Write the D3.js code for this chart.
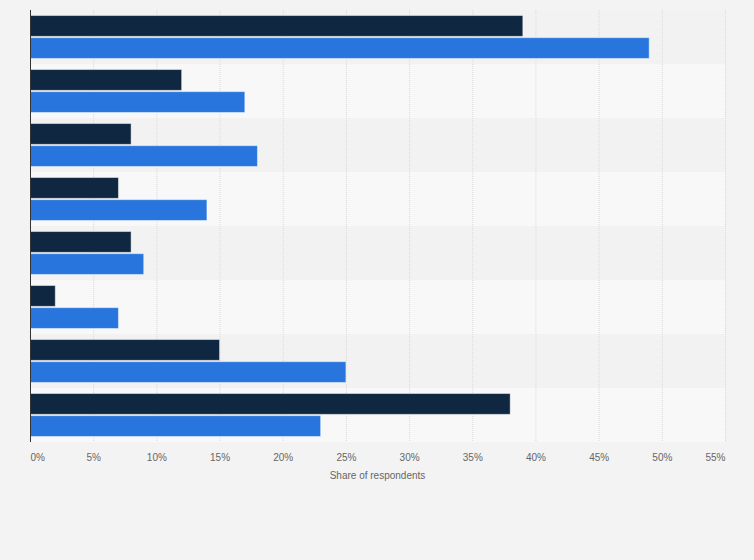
<!DOCTYPE html>
<html>
<head>
<meta charset="utf-8">
<script src="https://cdn.jsdelivr.net/npm/d3@7"></script>
<style>
  body { margin: 0; background: #f3f3f3; }
  svg { display: block; font-family: "Liberation Sans", Arial, sans-serif; }
</style>
</head>
<body>
<script>
(function() {

    // chart data
    var categories = ["Row 1", "Row 2", "Row 3", "Row 4", "Row 5", "Row 6", "Row 7", "Row 8"];
    var seriesNames = ["Series 1", "Series 2"];
    var series1 = [39, 12, 8, 7, 8, 2, 15, 38];
    var series2 = [49, 17, 18, 14, 9, 7, 25, 23];
    var tickValues = [0, 5, 10, 15, 20, 25, 30, 35, 40, 45, 50, 55];
    var axisTitle = "Share of respondents";

    var colors = ["#0f2740", "#2876dd"];

    var width = 754,
        height = 560,
        margin = {top: 10, right: 29, bottom: 118, left: 30};

    var innerW = width - margin.left - margin.right,
        innerH = height - margin.top - margin.bottom;

    var svg = d3.select("body")
        .append("svg")
        .attr("width", width)
        .attr("height", height);

    svg.append("rect")
        .attr("width", width)
        .attr("height", height)
        .attr("fill", "#f3f3f3");

    var g = svg.append("g")
        .attr("transform", "translate(" + margin.left + "," + margin.top + ")");

    var x = d3.scaleLinear()
        .domain([0, 55])
        .range([0, innerW]);

    var y0 = d3.scaleBand()
        .domain(categories)
        .range([0, innerH]);

    var y1 = d3.scaleBand()
        .domain(seriesNames)
        .range([0, y0.bandwidth()])
        .paddingInner(0.06)
        .paddingOuter(0.25);

    // alternating row bands
    g.selectAll(".band")
        .data(categories)
        .enter()
        .append("rect")
        .attr("class", "band")
        .attr("x", 0)
        .attr("y", function(d){ return y0(d); })
        .attr("width", innerW)
        .attr("height", y0.bandwidth())
        .attr("fill", function(d, i){ return i % 2 == 0 ? "#f2f2f2" : "#f8f8f8"; });

    // grid lines
    g.selectAll(".grid")
        .data(tickValues.slice(1))
        .enter()
        .append("line")
        .attr("class", "grid")
        .attr("x1", function(d){ return x(d) + 0.5; })
        .attr("x2", function(d){ return x(d) + 0.5; })
        .attr("y1", 0)
        .attr("y2", innerH)
        .attr("stroke", "#d9d9d9")
        .attr("stroke-width", 1)
        .attr("stroke-dasharray", "1,1");

    var rows = categories.map(function(c, i){
        return {cat: c, values: [series1[i], series2[i]]};
    });

    var groups = g.selectAll(".row")
        .data(rows)
        .enter()
        .append("g")
        .attr("class", "row")
        .attr("transform", function(d){ return "translate(0," + y0(d.cat) + ")"; });

    groups.selectAll("rect")
        .data(function(d){
            return d.values.map(function(v, j){ return {name: seriesNames[j], value: v, idx: j}; });
        })
        .enter()
        .append("rect")
        .attr("x", 0)
        .attr("y", function(d){ return y1(d.name); })
        .attr("width", function(d){ return x(d.value); })
        .attr("height", y1.bandwidth())
        .attr("fill", function(d){ return colors[d.idx]; })
        .attr("stroke", "rgba(255,255,255,0.45)")
        .attr("stroke-width", 1);

    // left axis line
    g.append("line")
        .attr("x1", 0.5)
        .attr("x2", 0.5)
        .attr("y1", 0)
        .attr("y2", innerH)
        .attr("stroke", "#333")
        .attr("stroke-width", 1);

    // x axis tick labels
    var xAxis = d3.axisBottom(x)
        .tickValues(tickValues)
        .tickSize(0)
        .tickPadding(12)
        .tickFormat(function(d){ return d + "%"; });

    var xg = g.append("g")
        .attr("transform", "translate(0," + innerH + ")")
        .call(xAxis);

    xg.select(".domain").remove();
    xg.selectAll("text")
        .attr("fill", "#666")
        .style("font-size", "10px")
        .attr("text-anchor", function(d, i){
            if (i == 0) return "start";
            if (i == tickValues.length - 1) return "end";
            return "middle";
        });

    g.append("text")
        .attr("x", innerW / 2)
        .attr("y", innerH + 37)
        .attr("text-anchor", "middle")
        .attr("fill", "#666")
        .style("font-size", "10px")
        .text(axisTitle);

})();
</script>
</body>
</html>
